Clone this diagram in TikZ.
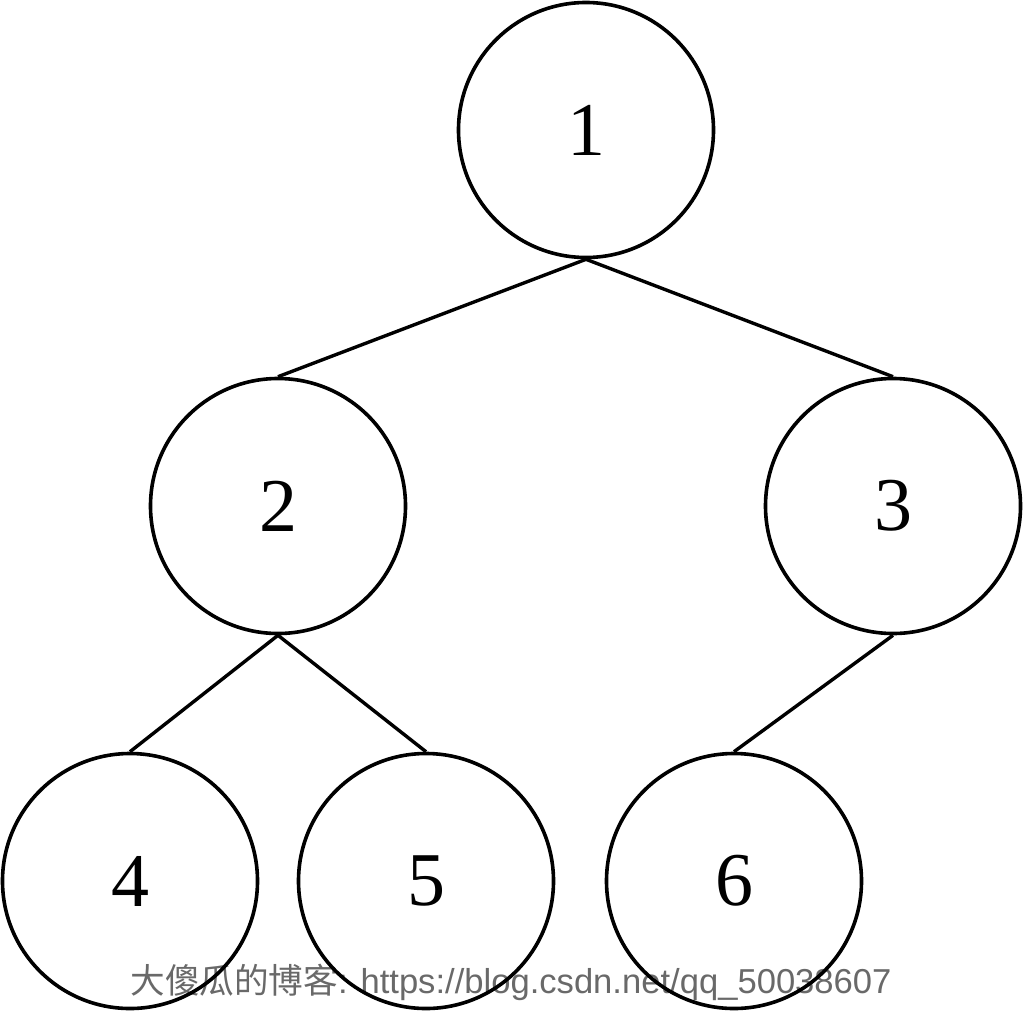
\documentclass[tikz,border=0pt]{standalone}
\usepackage{fontspec}
\setmainfont{Liberation Serif}
\newfontfamily\cjkwm{Noto Sans CJK SC}
\newfontfamily\latwm{Liberation Sans}
\definecolor{wmgray}{RGB}{105,105,105}
\begin{document}
\begin{tikzpicture}[x=1pt,y=-1pt,
  treenode/.style={circle,draw=black,line width=3.6pt,minimum size=255pt,inner sep=0pt,font=\fontsize{76}{80}\selectfont},
  edge/.style={line width=3.4pt,black},
  wm/.style={text=wmgray,inner sep=0pt,font=\fontsize{34.6}{38}\selectfont}]
\useasboundingbox (0,0) rectangle (1024,1012);
\node[wm] (mark) at (511,982) {\cjkwm 大傻瓜的博客\latwm: https://blog.csdn.net/qq\_50038607};
\node[treenode] (n1) at (586,130) {1};
\node[treenode] (n2) at (278,506) {2};
\node[treenode] (n3) at (893,506) {3};
\node[treenode] (n4) at (130,881) {4};
\node[treenode] (n5) at (426,881) {5};
\node[treenode] (n6) at (734,881) {6};
\draw[edge] (n1.south) -- (n2.north);
\draw[edge] (n1.south) -- (n3.north);
\draw[edge] (n2.south) -- (n4.north);
\draw[edge] (n2.south) -- (n5.north);
\draw[edge] (n3.south) -- (n6.north);
\end{tikzpicture}
\end{document}
